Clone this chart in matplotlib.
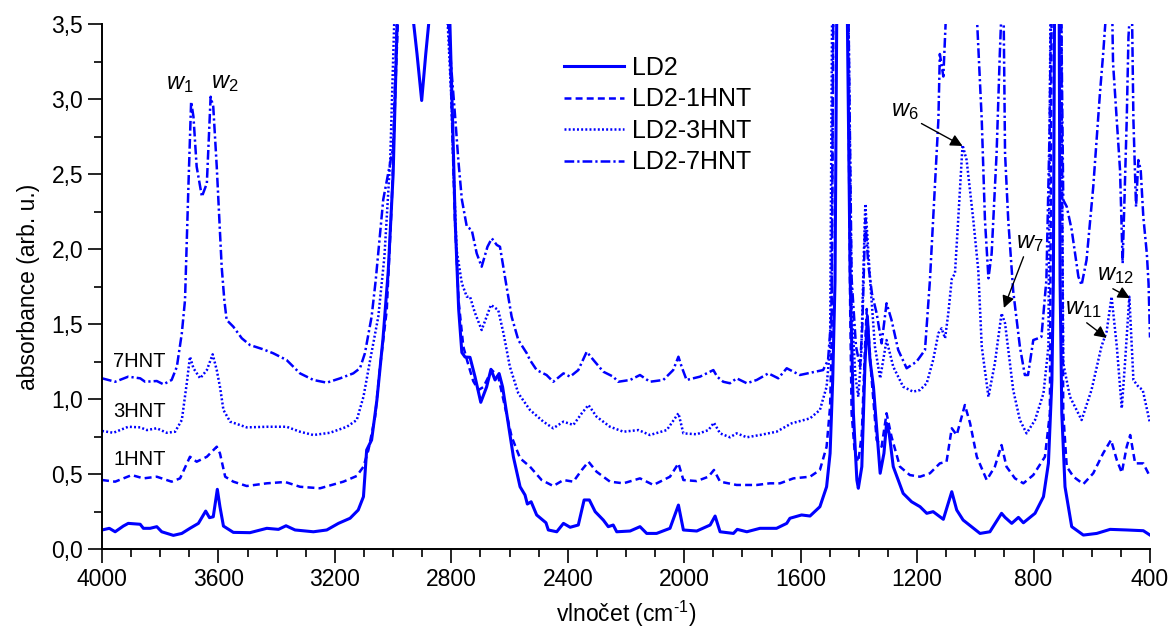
import numpy as np
import matplotlib
matplotlib.use('Agg')
from matplotlib import pyplot as plt
from matplotlib.ticker import MultipleLocator, FuncFormatter

plt.rcParams['font.family'] = ['Liberation Sans', 'DejaVu Sans']
plt.rcParams['mathtext.fontset'] = 'custom'
plt.rcParams['mathtext.rm'] = 'Liberation Sans'
plt.rcParams['mathtext.it'] = 'Liberation Sans:italic'
plt.rcParams['lines.scale_dashes'] = False

# LD2 (pure), wavenumber in cm-1 and absorbance
ld2_wn = [4000, 3975, 3955, 3927, 3910, 3869, 3858, 3835, 3812, 3795, 3755, 3726, 3698, 3669, 3644, 3631,
          3618, 3604, 3595, 3583, 3549, 3492, 3434, 3394, 3368, 3337, 3274, 3228, 3188, 3148, 3120, 3102,
          3091, 3074, 3056, 3035, 3017, 3000, 2985, 2960, 2935, 2918, 2902, 2888, 2873, 2820, 2805, 2795,
          2787, 2775, 2764, 2753, 2736, 2719, 2699, 2679, 2664, 2650, 2636, 2624, 2610, 2587, 2564, 2547,
          2539, 2526, 2507, 2475, 2467, 2438, 2415, 2392, 2364, 2344, 2326, 2306, 2278, 2261, 2244, 2232,
          2186, 2152, 2129, 2095, 2049, 2020, 2003, 1957, 1911, 1894, 1877, 1831, 1818, 1785, 1740, 1683,
          1648, 1637, 1597, 1568, 1534, 1511, 1499, 1490, 1482, 1476, 1440, 1430, 1419, 1407, 1402, 1390,
          1379, 1371, 1362, 1350, 1327, 1314, 1305, 1296, 1282, 1248, 1219, 1190, 1167, 1145, 1110, 1081,
          1064, 1042, 984, 950, 910, 898, 875, 852, 835, 795, 766, 749, 737, 732, 728, 712,
          709, 703, 692, 669, 629, 583, 537, 480, 423, 400]
ld2_abs = [0.127, 0.138, 0.115, 0.153, 0.171, 0.165, 0.138, 0.138, 0.149, 0.115, 0.091, 0.104, 0.138, 0.171, 0.253, 0.209,
           0.215, 0.398, 0.282, 0.153, 0.111, 0.109, 0.138, 0.131, 0.155, 0.127, 0.115, 0.127, 0.171, 0.205, 0.26, 0.349,
           0.66, 0.727, 0.99, 1.4, 1.85, 2.5, 3.6, 3.6, 3.6, 3.3, 2.99, 3.3, 3.6, 3.6, 3.5, 2.8,
           2.19, 1.6, 1.31, 1.28, 1.278, 1.15, 0.978, 1.08, 1.198, 1.127, 1.17, 1.08, 0.905, 0.615, 0.415, 0.36,
           0.30, 0.315, 0.227, 0.175, 0.127, 0.115, 0.171, 0.145, 0.16, 0.327, 0.327, 0.249, 0.193, 0.149, 0.16, 0.115,
           0.12, 0.149, 0.104, 0.104, 0.138, 0.293, 0.127, 0.12, 0.16, 0.22, 0.115, 0.104, 0.131, 0.115, 0.138, 0.138,
           0.171, 0.205, 0.227, 0.22, 0.282, 0.415, 0.638, 1.127, 1.79, 3.6, 3.6, 1.8, 0.905, 0.46, 0.405, 0.549,
           1.24, 1.55, 1.26, 1.08, 0.505, 0.638, 0.838, 0.77, 0.549, 0.371, 0.315, 0.282, 0.238, 0.249, 0.198, 0.382,
           0.26, 0.193, 0.104, 0.115, 0.238, 0.211, 0.171, 0.211, 0.175, 0.238, 0.349, 0.571, 1.127, 1.79, 3.6, 3.6,
           1.79, 0.905, 0.415, 0.149, 0.093, 0.104, 0.131, 0.127, 0.122, 0.093]

# LD2-1HNT
hnt1_wn = [4000, 3955, 3898, 3858, 3812, 3761, 3732, 3698, 3675, 3640, 3606, 3595, 3577, 3549, 3503, 3434,
           3371, 3320, 3251, 3171, 3125, 3102, 3085, 3062, 3045, 3022, 3005, 2990, 2982, 2810, 2800, 2788,
           2775, 2759, 2745, 2725, 2707, 2690, 2661, 2639, 2616, 2593, 2564, 2530, 2490, 2450, 2415, 2381,
           2352, 2329, 2301, 2255, 2209, 2152, 2106, 2049, 2020, 2003, 1957, 1917, 1898, 1877, 1820, 1751,
           1706, 1671, 1625, 1568, 1534, 1511, 1499, 1494, 1488, 1438, 1430, 1425, 1414, 1402, 1390, 1379,
           1373, 1356, 1339, 1322, 1305, 1288, 1259, 1225, 1190, 1156, 1122, 1099, 1081, 1064, 1036, 1018,
           995, 961, 933, 910, 893, 864, 835, 801, 761, 744, 738, 705, 698, 686, 663, 629,
           595, 561, 534, 514, 497, 480, 468, 451, 423, 400]
hnt1_abs = [0.46, 0.449, 0.493, 0.471, 0.482, 0.449, 0.471, 0.615, 0.582, 0.615, 0.682, 0.638, 0.482, 0.449, 0.42, 0.438,
            0.447, 0.415, 0.405, 0.449, 0.487, 0.549, 0.66, 0.882, 1.215, 1.593, 2.3, 3.2, 3.6, 3.6, 3.0, 2.2,
            1.65, 1.35, 1.25, 1.12, 1.06, 1.08, 1.193, 1.15, 0.949, 0.749, 0.605, 0.549, 0.46, 0.42, 0.46, 0.449,
            0.527, 0.582, 0.515, 0.449, 0.438, 0.471, 0.427, 0.482, 0.571, 0.46, 0.453, 0.482, 0.527, 0.449, 0.427, 0.427,
            0.438, 0.438, 0.471, 0.482, 0.527, 0.682, 0.949, 1.35, 3.6, 3.6, 1.6, 0.905, 0.638, 0.582, 0.77, 1.35,
            1.6, 1.127, 0.727, 0.682, 0.905, 0.749, 0.549, 0.493, 0.482, 0.505, 0.571, 0.582, 0.805, 0.76, 0.96, 0.838,
            0.615, 0.46, 0.549, 0.693, 0.549, 0.471, 0.438, 0.493, 0.615, 0.905, 3.6, 3.6, 0.905, 0.549, 0.482, 0.433,
            0.505, 0.638, 0.727, 0.593, 0.509, 0.682, 0.76, 0.571, 0.571, 0.482]

# LD2-3HNT
hnt3_wn = [4000, 3961, 3910, 3869, 3846, 3812, 3778, 3749, 3726, 3709, 3698, 3686, 3663, 3640, 3620, 3606,
           3595, 3583, 3560, 3503, 3434, 3366, 3320, 3274, 3217, 3159, 3125, 3102, 3079, 3051, 3030, 3010,
           2995, 2815, 2800, 2793, 2782, 2764, 2747, 2736, 2720, 2696, 2664, 2639, 2621, 2599, 2570, 2530,
           2484, 2450, 2415, 2381, 2352, 2329, 2301, 2255, 2209, 2157, 2118, 2060, 2020, 2003, 1957, 1917,
           1898, 1877, 1843, 1820, 1785, 1740, 1683, 1631, 1568, 1534, 1511, 1499, 1492, 1436, 1425, 1412,
           1402, 1392, 1384, 1378, 1368, 1360, 1345, 1327, 1305, 1282, 1248, 1214, 1190, 1167, 1145, 1127,
           1116, 1104, 1093, 1081, 1070, 1059, 1044, 1030, 1007, 990, 978, 955, 933, 910, 898, 870,
           847, 824, 795, 766, 749, 742, 706, 698, 675, 635, 601, 567, 549, 532, 514, 497,
           486, 471, 457, 440, 425, 400]
hnt3_abs = [0.787, 0.775, 0.815, 0.811, 0.793, 0.805, 0.775, 0.782, 0.86, 1.105, 1.282, 1.205, 1.138, 1.193, 1.298, 1.193,
            1.082, 0.927, 0.849, 0.811, 0.815, 0.815, 0.782, 0.76, 0.775, 0.815, 0.86, 1.015, 1.26, 1.549, 1.95, 2.6,
            3.6, 3.6, 3.0, 2.549, 1.993, 1.771, 1.682, 1.682, 1.58, 1.46, 1.627, 1.593, 1.438, 1.215, 1.038, 0.927,
            0.849, 0.805, 0.849, 0.827, 0.905, 0.96, 0.882, 0.815, 0.782, 0.793, 0.76, 0.793, 0.905, 0.771, 0.765, 0.793,
            0.842, 0.771, 0.745, 0.771, 0.745, 0.76, 0.782, 0.838, 0.871, 0.927, 1.082, 1.349, 3.6, 3.6, 1.6, 1.15,
            1.015, 1.3, 1.9, 2.3, 2.0, 1.75, 1.35, 1.138, 1.393, 1.215, 1.082, 1.049, 1.06, 1.105, 1.26, 1.438,
            1.471, 1.405, 1.57, 1.8, 1.838, 2.193, 2.693, 2.593, 2.193, 1.86, 1.349, 1.015, 1.238, 1.571, 1.505, 1.06,
            0.86, 0.771, 0.86, 1.038, 1.349, 3.6, 3.6, 1.238, 1.015, 0.86, 1.06, 1.349, 1.45, 1.682, 1.349, 0.938,
            1.238, 1.682, 1.127, 1.082, 1.06, 0.838]

# LD2-7HNT
hnt7_wn = [4000, 3955, 3910, 3869, 3852, 3812, 3789, 3761, 3743, 3726, 3715, 3703, 3694, 3686, 3675, 3657,
           3640, 3627, 3618, 3606, 3589, 3580, 3572, 3549, 3520, 3492, 3446, 3412, 3366, 3320, 3274, 3228,
           3182, 3137, 3114, 3097, 3074, 3060, 3034, 3000, 2986, 2815, 2800, 2787, 2776, 2764, 2747, 2730,
           2713, 2696, 2676, 2661, 2644, 2633, 2616, 2593, 2570, 2541, 2530, 2507, 2473, 2450, 2415, 2392,
           2364, 2335, 2312, 2278, 2244, 2227, 2186, 2152, 2118, 2072, 2038, 2020, 2009, 1992, 1946, 1900,
           1887, 1866, 1843, 1820, 1785, 1751, 1711, 1677, 1648, 1603, 1523, 1506, 1494, 1488, 1436, 1425,
           1410, 1396, 1388, 1378, 1368, 1355, 1339, 1322, 1305, 1288, 1265, 1236, 1202, 1173, 1156, 1139,
           1127, 1122, 1110, 1100, 996, 978, 967, 955, 944, 927, 916, 910, 903, 898, 887, 870,
           847, 830, 819, 801, 784, 773, 756, 745, 740, 705, 698, 686, 669, 646, 635, 618,
           595, 572, 561, 550, 530, 527, 503, 494, 480, 474, 468, 462, 457, 448, 440, 432,
           423, 411, 405, 400]
hnt7_abs = [1.138, 1.115, 1.149, 1.138, 1.115, 1.12, 1.098, 1.127, 1.215, 1.438, 1.66, 2.438, 2.982, 2.882, 2.549, 2.349,
            2.438, 3.015, 2.949, 2.549, 1.88, 1.66, 1.527, 1.482, 1.405, 1.36, 1.331, 1.305, 1.26, 1.171, 1.127, 1.109,
            1.138, 1.171, 1.205, 1.305, 1.549, 1.79, 2.33, 2.68, 3.6, 3.6, 3.2, 2.88, 2.59, 2.33, 2.149, 2.127,
            1.971, 1.882, 2.015, 2.071, 2.027, 2.015, 1.815, 1.549, 1.393, 1.305, 1.26, 1.193, 1.16, 1.115, 1.171, 1.149,
            1.193, 1.315, 1.26, 1.182, 1.149, 1.115, 1.127, 1.16, 1.115, 1.127, 1.193, 1.282, 1.215, 1.127, 1.149, 1.193,
            1.149, 1.115, 1.105, 1.138, 1.105, 1.127, 1.171, 1.138, 1.205, 1.16, 1.193, 1.26, 1.571, 3.6, 3.6, 1.8,
            1.35, 1.215, 1.5, 2.2, 1.9, 1.7, 1.571, 1.371, 1.638, 1.527, 1.327, 1.205, 1.249, 1.327, 1.793, 2.415,
            2.86, 3.30, 3.15, 3.6, 3.6, 2.86, 2.193, 1.805, 1.971, 2.638, 3.30, 3.6, 3.6, 2.638, 2.193, 1.72,
            1.349, 1.16, 1.16, 1.393, 1.405, 1.415, 1.793, 2.8, 3.6, 3.6, 2.327, 2.282, 2.127, 1.815, 1.76, 1.927,
            2.415, 3.038, 3.30, 3.6, 3.6, 3.24, 2.527, 1.904, 2.86, 3.415, 3.6, 3.6, 2.86, 2.282, 2.593, 2.527,
            2.215, 1.971, 1.77, 1.41]

series_names = ['LD2', 'LD2-1HNT', 'LD2-3HNT', 'LD2-7HNT']
side_labels = ['7HNT', '3HNT', '1HNT']

fig = plt.figure(figsize=(11.73, 6.35), dpi=100)
ax = fig.add_axes([0.0870, 0.1354, 0.8934, 0.8268])

blue = '#0000ff'
ax.plot(ld2_wn, ld2_abs, color=blue, lw=2.2, label=series_names[0])
ax.plot(hnt1_wn, hnt1_abs, color=blue, lw=1.8, dashes=(5, 3), label=series_names[1])
ax.plot(hnt3_wn, hnt3_abs, color=blue, lw=1.8, dashes=(1.4, 1.6), label=series_names[2])
ax.plot(hnt7_wn, hnt7_abs, color=blue, lw=1.8, dashes=(7, 2.2, 1.6, 2.2), label=series_names[3])

ax.set_xlim(4000, 400)
ax.set_ylim(0, 3.5)
ax.xaxis.set_major_locator(MultipleLocator(400))
ax.xaxis.set_minor_locator(MultipleLocator(100))
ax.yaxis.set_major_locator(MultipleLocator(0.5))
ax.yaxis.set_minor_locator(MultipleLocator(0.25))
ax.yaxis.set_major_formatter(FuncFormatter(lambda v, p: f'{v:.1f}'.replace('.', ',')))

for s in ['top', 'right']:
    ax.spines[s].set_visible(False)
for s in ['left', 'bottom']:
    ax.spines[s].set_linewidth(1.4)
ax.tick_params(which='major', length=10, width=1.2, labelsize=16.5, direction='out')
ax.tick_params(which='minor', length=6, width=1.2, direction='out')

ax.set_xlabel(r'vlnočet (cm$^{\text{-}1}$)', fontsize=16.5, labelpad=6)
ax.set_ylabel('absorbance (arb. u.)', fontsize=16.5, labelpad=8)

# sample labels on the left
for lab, y in zip(side_labels, [1.247, 0.92, 0.6]):
    ax.text(3962, y, lab, fontsize=14.5, va='center', ha='left')

# band labels
ax.text(3732, 3.1, r'$\mathit{w_1}$', fontsize=17, ha='center', va='center')
ax.text(3577, 3.11, r'$\mathit{w_2}$', fontsize=17, ha='center', va='center')
arr = dict(arrowstyle='-|>', color='black', lw=1.0, mutation_scale=18, shrinkA=0, shrinkB=0)
ax.annotate(r'$\mathit{w_6}$', xy=(1044, 2.687), xytext=(1242, 2.92), fontsize=17,
            ha='center', va='center', arrowprops=dict(arr, relpos=(1.0, 0.0)))
ax.annotate(r'$\mathit{w_7}$', xy=(902, 1.607), xytext=(812, 2.04), fontsize=17,
            ha='center', va='center', arrowprops=dict(arr, relpos=(0.3, 0.0)))
ax.annotate(r'$\mathit{w_{11}}$', xy=(549, 1.407), xytext=(630, 1.6), fontsize=17,
            ha='center', va='center', arrowprops=dict(arr, relpos=(0.5, 0.0)))
ax.annotate(r'$\mathit{w_{12}}$', xy=(469, 1.673), xytext=(520, 1.827), fontsize=17,
            ha='center', va='center', arrowprops=dict(arr, relpos=(0.3, 0.0)))

ax.legend(loc='upper left', bbox_to_anchor=(0.481, 0.912), bbox_transform=fig.transFigure,
          frameon=False, fontsize=18, handlelength=2.4, handletextpad=0.3,
          labelspacing=0.3, borderpad=0, borderaxespad=0)

fig.savefig('out.png', dpi=100)
